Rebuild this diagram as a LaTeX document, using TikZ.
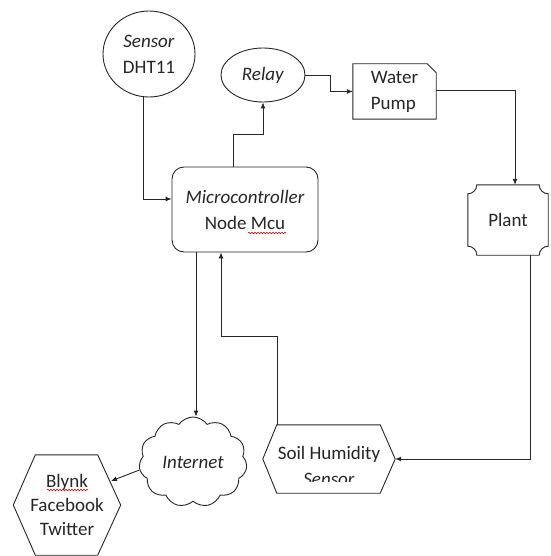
\documentclass[tikz,border=0pt]{standalone}
\usepackage{fontspec}
\setmainfont{Carlito}
\usetikzlibrary{shapes.symbols,shapes.geometric,arrows.meta,decorations.pathmorphing}
\begin{document}
\begin{tikzpicture}[x=1pt,y=-1pt,
  every node/.style={font=\fontsize{19}{26}\selectfont, align=center, inner sep=0pt, text=black!85},
  outline/.style={draw=black!85, line width=0.9pt},
  conn/.style={draw=black!85, line width=0.9pt},
  arr/.style={conn, -{Latex[length=6pt,width=5pt]}},
  squiggle/.style={draw=red!85!black, line width=0.6pt, decorate, decoration={snake, amplitude=0.8pt, segment length=3pt}},
  box/.style={minimum width=#1},
]
\useasboundingbox[fill=white] (0,0) rectangle (550,556);

% nodes
\node[outline, ellipse, minimum width=92, minimum height=86] (sensor) at (149,54) {\textit{Sensor}\\DHT11};
\node[outline, ellipse, minimum width=84, minimum height=54] (relay) at (263,75) {\textit{Relay}};
\node[outline, rounded corners=12, minimum width=146, minimum height=85] (micro) at (245,209.5) {\textit{Microcontroller}\\Node Mcu};

\node[minimum width=83, minimum height=55, align=left] (pump) at (394.5,91.5) {Water\\Pump};
\draw[outline] (pump.north west) -- ([xshift=-9]pump.north east) -- ([yshift=-9]pump.north east)
  -- (pump.south east) -- (pump.south west) -- cycle;

\node[minimum width=80, minimum height=70] (plant) at (508,220) {Plant};
\draw[outline] ([xshift=9]plant.north west) -- ([xshift=-9]plant.north east)
  to[out=-90,in=180] ([yshift=-9]plant.north east) -- ([yshift=9]plant.south east)
  to[out=180,in=90] ([xshift=-9]plant.south east) -- ([xshift=9]plant.south west)
  to[out=90,in=0] ([yshift=9]plant.south west) -- ([yshift=-9]plant.north west)
  to[out=0,in=-90] cycle;

\node[minimum width=132, minimum height=68] (soil) at (329,459) {};
\draw[outline] ([xshift=14]soil.north west) -- ([xshift=-15]soil.north east) -- (soil.east)
  -- ([xshift=-15]soil.south east) -- ([xshift=14]soil.south west) -- (soil.west) -- cycle;
\begin{scope}
  \clip (263,400) rectangle (395,481.5);
  \node (soiltext) at (329,466) {Soil Humidity\\\textit{Sensor}};
\end{scope}

\node[outline, cloud, cloud puffs=11, cloud puff arc=110, aspect=1.2, minimum width=108, minimum height=90] (cloud) at (193,462) {\textit{Internet}};

\node[minimum width=107, minimum height=100] (blynk) at (67,505) {};
\draw[outline] ([xshift=22]blynk.north west) -- ([xshift=-23]blynk.north east) -- (blynk.east)
  -- ([xshift=-23]blynk.south east) -- ([xshift=22]blynk.south west) -- (blynk.west) -- cycle;
\node[font=\fontsize{19}{24}\selectfont] (blynktext) at (67,505) {Blynk\\Facebook\\Twitter};
\coordinate (blynkin) at (111,481);

% spell-check squiggles
\draw[squiggle] ([xshift=3,yshift=-23.5]micro.center) -- ([xshift=41,yshift=-23.5]micro.center);
\draw[squiggle] ([xshift=-20,yshift=15]blynk.center) -- ([xshift=21,yshift=15]blynk.center);

% connectors
\draw[arr] ([xshift=-6]sensor.south) |- ([yshift=10.5]micro.west);
\draw[arr] ([xshift=-12]micro.north) -- ++(0,-32) -| (relay.south);
\draw[arr] (relay.east) -- ++(25,0) |- (pump.west);
\draw[arr] ([yshift=1.5]pump.east) -| ([xshift=7]plant.north);
\draw[arr] ([xshift=22]plant.south) |- (soil.east);
\draw[arr] ([xshift=-52]soil.north) -- ++(0,-88) -| ([xshift=-24]micro.south);
\draw[arr] ([xshift=-49]micro.south) -- ([xshift=-49]micro.south |- cloud.north);
\draw[arr] ([yshift=-8]cloud.west) -- (blynkin);
\end{tikzpicture}
\end{document}
